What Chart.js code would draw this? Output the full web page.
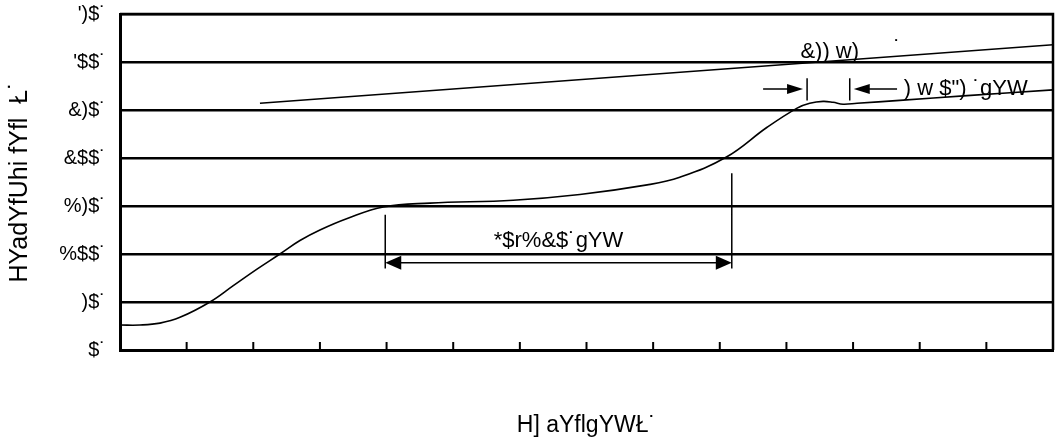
<!DOCTYPE html>
<html>
<head>
<meta charset="utf-8">
<script src="https://cdn.jsdelivr.net/npm/chart.js@4.4.1/dist/chart.umd.min.js"></script>
<style>
  html, body { margin: 0; padding: 0; background: #fff; }
  #wrap { width: 1057px; height: 439px; }
</style>
</head>
<body>
<div id="wrap"><canvas id="chart"></canvas></div>
<script>
'use strict';

/* ── DATA ─────────────────────────── */
const profileX = [0, 0.3, 0.6, 0.9, 1.35, 1.7, 2.05, 2.4, 2.7, 3.0, 3.41, 3.95, 4.65, 5.9, 6.9, 7.91, 8.4, 9.1, 9.71, 10.16, 10.35, 10.55, 10.7, 10.85, 11.06, 11.7, 12.71, 14];
const profileY = [26, 26, 28, 34, 50, 67, 84, 100, 114, 125, 137, 149, 153, 156, 162, 172, 180, 201, 232, 252, 257, 259, 258, 256, 257, 260, 265, 271];

const limitX = [2.1, 14];
const limitY = [257, 318];

const yTickLabels = ['$˙', ')$˙', '%$$˙', '%)$˙', '&$$˙', '&)$˙', '\'$$˙', '\')$˙'];

const xTitle = 'H] aYflgYWŁ˙';
const yTitle = 'HYadYfUhi fYfl  Ł˙';

const spanLabel = '*$r%&$˙gYW';
const peakLabel = '&)) w)';
const dwellLabel = ') w $") ˙gYW';

/* ── HELPERS ─────────────────────────── */
const ink = '#000';
const font = 'Liberation Sans, Arial, sans-serif';

function arrowHead(ctx, x, y, dir, len, half) {
  ctx.beginPath();
  ctx.moveTo(x, y);
  ctx.lineTo(x - dir * len, y - half);
  ctx.lineTo(x - dir * len, y + half);
  ctx.closePath();
  ctx.fill();
}

/* ── PLUGIN: frame, inner ticks, annotations ─────────────────────────── */
const decor = {
  id: 'decor',
  afterDatasetsDraw(chart) {
    const { ctx, chartArea: a, scales: { x, y } } = chart;
    ctx.save();
    ctx.strokeStyle = ink;
    ctx.fillStyle = ink;

    // frame top + right
    ctx.lineWidth = 2.5;
    ctx.beginPath();
    ctx.moveTo(a.left, a.top);
    ctx.lineTo(a.right, a.top);
    ctx.lineTo(a.right, a.bottom);
    ctx.stroke();

    // inner x ticks
    ctx.lineWidth = 2;
    x.ticks.forEach(t => {
      if (t.value <= x.min || t.value >= x.max) return;
      const px = x.getPixelForValue(t.value);
      ctx.beginPath();
      ctx.moveTo(px, a.bottom);
      ctx.lineTo(px, a.bottom - 8);
      ctx.stroke();
    });

    // 60~120 sec span
    const sx1 = x.getPixelForValue(3.98), sx2 = x.getPixelForValue(9.18);
    const sy = y.getPixelForValue(91);
    ctx.lineWidth = 1.5;
    ctx.beginPath();
    ctx.moveTo(sx1, y.getPixelForValue(141)); ctx.lineTo(sx1, y.getPixelForValue(85));
    ctx.moveTo(sx2, y.getPixelForValue(184)); ctx.lineTo(sx2, y.getPixelForValue(85));
    ctx.moveTo(sx1 + 10, sy); ctx.lineTo(sx2 - 10, sy);
    ctx.stroke();
    arrowHead(ctx, sx1, sy, -1, 16, 7);
    arrowHead(ctx, sx2, sy, 1, 16, 7);

    ctx.font = '22px ' + font;
    ctx.textAlign = 'center';
    ctx.textBaseline = 'middle';
    ctx.fillText(spanLabel, (sx1 + sx2) / 2, y.getPixelForValue(114));

    // dwell at peak
    const ay = y.getPixelForValue(272);
    const b1 = x.getPixelForValue(10.31), b2 = x.getPixelForValue(10.95);
    ctx.beginPath();
    ctx.moveTo(b1, y.getPixelForValue(283)); ctx.lineTo(b1, y.getPixelForValue(260));
    ctx.moveTo(b2, y.getPixelForValue(283)); ctx.lineTo(b2, y.getPixelForValue(260));
    ctx.moveTo(x.getPixelForValue(9.65), ay); ctx.lineTo(b1 - 12, ay);
    ctx.moveTo(b2 + 12, ay); ctx.lineTo(x.getPixelForValue(11.66), ay);
    ctx.stroke();
    arrowHead(ctx, b1 - 4, ay, 1, 16, 5);
    arrowHead(ctx, b2 + 4, ay, -1, 16, 5);

    ctx.textAlign = 'left';
    ctx.fillText(dwellLabel, x.getPixelForValue(11.76), ay);

    ctx.textAlign = 'center';
    ctx.fillText(peakLabel, x.getPixelForValue(10.65), y.getPixelForValue(310));
    ctx.fillText('˙', x.getPixelForValue(11.66), y.getPixelForValue(314));

    ctx.restore();
  },
};

/* ── CHART ─────────────────────────── */
new Chart(document.getElementById('chart'), {
  type: 'line',
  data: {
    datasets: [
      {
        data: profileX.map((v, i) => ({ x: v, y: profileY[i] })),
        borderColor: ink,
        borderWidth: 1.6,
        pointRadius: 0,
        fill: false,
        tension: 0.4,
      },
      {
        data: limitX.map((v, i) => ({ x: v, y: limitY[i] })),
        borderColor: ink,
        borderWidth: 1.6,
        pointRadius: 0,
        fill: false,
      },
    ],
  },
  options: {
    responsive: true,
    maintainAspectRatio: false,
    animation: false,
    layout: { padding: { left: 0, top: 14, right: 4, bottom: 0 } },
    plugins: {
      legend: { display: false },
      tooltip: { enabled: false },
    },
    scales: {
      x: {
        type: 'linear',
        min: 0,
        max: 14,
        ticks: { stepSize: 1, display: false },
        grid: { drawOnChartArea: false, drawTicks: false },
        border: { color: ink, width: 3 },
        title: {
          display: true,
          text: xTitle,
          color: ink,
          font: { family: font, size: 23 },
          padding: { top: 4, bottom: 0 },
        },
        afterFit: s => { s.height = 89; s.paddingLeft = 0; s.paddingRight = 0; },
      },
      y: {
        min: 0,
        max: 350,
        ticks: {
          stepSize: 50,
          color: ink,
          padding: 14,
          font: { family: font, size: 20 },
          callback: (v, i) => yTickLabels[i],
        },
        grid: { color: ink, lineWidth: 2.5, drawTicks: false },
        border: { color: ink, width: 3 },
        title: {
          display: true,
          text: yTitle,
          color: ink,
          font: { family: font, size: 25 },
          padding: { top: 5, bottom: 0 },
        },
        afterFit: s => { s.width = 120; s.paddingTop = 0; s.paddingBottom = 0; },
      },
    },
  },
  plugins: [decor],
});
</script>
</body>
</html>
